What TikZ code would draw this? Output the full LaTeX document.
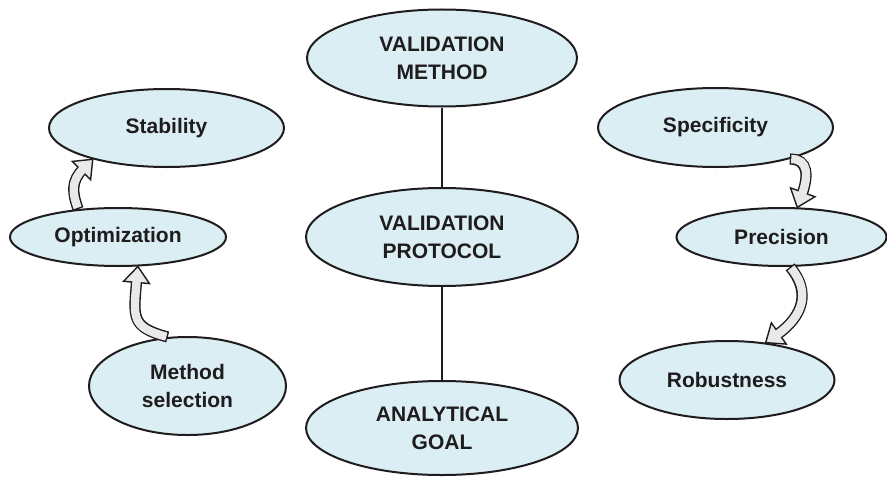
\documentclass[tikz,border=0pt]{standalone}
\usepackage{fontspec}
\setmainfont{Liberation Sans}
\usetikzlibrary{positioning, shapes.geometric, calc}

\definecolor{bubble}{RGB}{219,238,244}
\definecolor{arrowfill}{RGB}{233,233,233}
\definecolor{ink}{RGB}{30,28,29}

% 弯曲的块状箭头: 起点, 终点, out, in
\newcommand{\blockarrow}[5][1]{%
  \draw[arrowrim] (#2) to[out=#4,in=#5,looseness=#1] ($(#3)+(#5:6.8pt)$);
  \pic[rotate=#5+180] at (#3) {blockhead};
  \draw[arrowcore] (#2) to[out=#4,in=#5,looseness=#1] ($(#3)+(#5:6.8pt)$);
}

\begin{document}
\begin{tikzpicture}[
    on grid,
    topic/.style={ellipse, draw=ink, line width=1pt, fill=bubble, inner sep=0pt,
      align=center, text=ink, font=\fontsize{10.5}{14}\selectfont\bfseries},
    arrowrim/.style={draw=ink, line width=5.6pt},
    arrowcore/.style={draw=arrowfill, line width=4.2pt, shorten <=0.7pt},
    blockhead/.pic={\filldraw[fill=arrowfill, draw=ink, line width=0.7pt]
      (0,0) -- (-8pt,6.5pt) -- (-8pt,-6.5pt) -- cycle;}
]
\useasboundingbox (0,0) rectangle (443.5pt,-238pt);

% 中间一列
\node[topic, minimum width=135pt, minimum height=48.5pt] (method) at (221pt,-29pt) {VALIDATION\\METHOD};
\node[topic, minimum width=136pt, minimum height=49pt, below=89.5pt of method] (protocol) {VALIDATION\\PROTOCOL};
\node[topic, minimum width=136pt, minimum height=47pt, below=95.5pt of protocol] (goal) {ANALYTICAL\\GOAL};

% 左侧
\node[topic, minimum width=117.5pt, minimum height=39pt, below left=35pt and 137.75pt of method] (stability) {Stability};
\node[topic, minimum width=108pt, minimum height=29pt, left=162pt of protocol] (optimization) {Optimization};
\node[topic, minimum width=98.5pt, minimum height=49pt, below right=74.5pt and 34.75pt of optimization] (selection) {Method\\selection};

% 右侧
\node[topic, minimum width=117.5pt, minimum height=39.5pt, below right=34.75pt and 136.75pt of method] (specificity) {Specificity};
\node[topic, minimum width=105pt, minimum height=29pt, right=169.75pt of protocol] (precision) {Precision};
\node[topic, minimum width=107.5pt, minimum height=39pt, below left=71.5pt and 27.25pt of precision] (robustness) {Robustness};

% 竖线
\draw[ink, line width=1pt] (method) -- (protocol);
\draw[ink, line width=1pt] (protocol) -- (goal);

% 弯箭头
\blockarrow[1.1]{optimization.145}{stability.203}{110}{225}
\blockarrow[1.5]{selection.112}{optimization.304}{165}{265}
\blockarrow[1.3]{specificity.337}{precision.62}{0}{70}
\blockarrow[1.2]{precision.286}{robustness.44}{-50}{35}

\end{tikzpicture}
\end{document}
